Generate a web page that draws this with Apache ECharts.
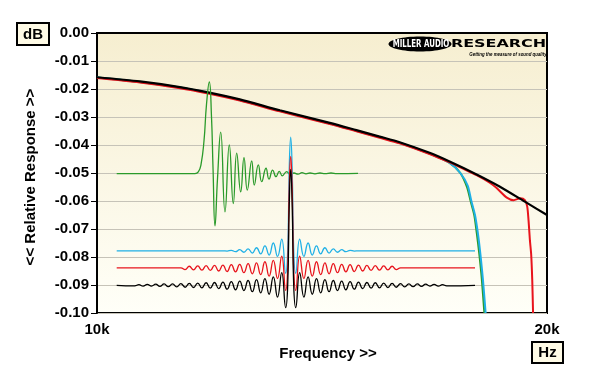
<!DOCTYPE html>
<html><head><meta charset="utf-8">
<script src="https://cdn.jsdelivr.net/npm/echarts@6/dist/echarts.min.js"></script>
<style>html,body{margin:0;padding:0;background:#fff}#c{width:600px;height:383px}</style>
</head><body><div id="c"></div>
<script>
// ---------- tick labels ----------
const xTickFreqs = [10000, 20000];
const xTickLabels = ['10k', '20k'];
const yTickValues = [0, -0.01, -0.02, -0.03, -0.04, -0.05, -0.06, -0.07, -0.08, -0.09, -0.10];
const yTickLabels = ['0.00', '-0.01', '-0.02', '-0.03', '-0.04', '-0.05', '-0.06', '-0.07', '-0.08', '-0.09', '-0.10'];

// ---------- frequency responses (Hz, dB) ----------
const freqBlack = [10000,10684,11362,11844,12460,13252,14312,14911,15455,15939,16691,17214,17945,18590,19378,20000];
const dbBlack   = [-0.0158,-0.0173,-0.0193,-0.0211,-0.0237,-0.0276,-0.0321,-0.0347,-0.0370,-0.0390,-0.0428,-0.0459,-0.0505,-0.0548,-0.0606,-0.0650];

const freqRed = [10000,10684,11362,11844,12460,13252,14312,14911,15455,15939,16691,17214,17600,17945,18300,18500,18800,19000,19200,19330,19400,19440,19480,19518,19550,19575];
const dbRed   = [-0.0161,-0.0177,-0.0197,-0.0215,-0.0241,-0.0280,-0.0325,-0.0351,-0.0374,-0.0394,-0.0432,-0.0462,-0.0486,-0.0508,-0.0534,-0.0553,-0.0588,-0.0597,-0.0590,-0.0597,-0.0620,-0.0670,-0.0740,-0.0790,-0.0880,-0.1000];

const freqCyan = [10000,10684,11362,11844,12460,13252,14312,14911,15455,15939,16691,17214,17500,17700,17800,17900,17980,18050,18120,18196];
const dbCyan   = [-0.0159,-0.0175,-0.0195,-0.0213,-0.0239,-0.0278,-0.0323,-0.0349,-0.0372,-0.0392,-0.0431,-0.0464,-0.0500,-0.0545,-0.0600,-0.0650,-0.0715,-0.0790,-0.0880,-0.1000];

const freqGreen = [10000,10684,11362,11844,12460,13252,14312,14911,15455,15939,16691,17214,17500,17680,17780,17880,17950,18020,18090,18160];
const dbGreen   = [-0.0159,-0.0175,-0.0195,-0.0213,-0.0239,-0.0278,-0.0323,-0.0349,-0.0372,-0.0392,-0.0431,-0.0464,-0.0500,-0.0550,-0.0600,-0.0650,-0.0715,-0.0790,-0.0880,-0.1000];

// ---------- inset impulse responses (time units, dB-scale offset) ----------
const impTime = [19.7,37.7,41.9,46.1,50.3,54.5,58.7,62.9,67.1,71.3,75.5,79.7,83.9,88.1,92.3,96.5,100.7,104.9,109.1,113.3,117.5,121.7,125.9,130.1,134.3,138.5,142.7,146.9,151.1,155.3,159.5,163.7,167.9,172.1,176.3,180.5,184.7,
  188.7,190.7,192.2,193.7,195.2,196.7,198.7,
  202.7,206.9,211.1,215.3,219.5,223.7,227.9,232.1,236.3,240.5,244.7,248.9,253.1,257.3,261.5,265.7,269.9,274.1,278.3,282.5,286.7,290.9,295.1,299.3,303.5,307.7,311.9,316.1,320.3,324.5,328.7,332.9,337.1,341.3,345.5,349.7,378];

const impBlack = [-0.0901,
  -0.0903,-0.0899,-0.0904,-0.0898,-0.0904,-0.0897,-0.0905,-0.0896,-0.0906,-0.0896,-0.0907,-0.0895,-0.0908,-0.0894,-0.0909,-0.0893,-0.0910,-0.0892,-0.0911,-0.0891,-0.0913,-0.0890,-0.0915,-0.0888,-0.0917,-0.0886,-0.0920,-0.0884,-0.0924,-0.0881,-0.0928,-0.0877,-0.0933,-0.0871,-0.0943,-0.0856,
  -0.0981,-0.0901,-0.0620,-0.0487,-0.0620,-0.0901,-0.0981,
  -0.0856,-0.0943,-0.0871,-0.0933,-0.0877,-0.0928,-0.0881,-0.0924,-0.0884,-0.0920,-0.0886,-0.0917,-0.0888,-0.0915,-0.0890,-0.0913,-0.0891,-0.0911,-0.0892,-0.0910,-0.0893,-0.0909,-0.0894,-0.0908,-0.0895,-0.0907,-0.0896,-0.0906,-0.0896,-0.0905,-0.0897,-0.0904,-0.0898,-0.0904,-0.0899,-0.0903,
  -0.0901];

const impRed = [-0.0839,
  -0.0839,-0.0839,-0.0839,-0.0839,-0.0839,-0.0839,-0.0839,-0.0839,-0.0839,-0.0839,-0.0839,-0.0839,-0.0845,-0.0833,-0.0846,-0.0832,-0.0847,-0.0831,-0.0848,-0.0830,-0.0850,-0.0829,-0.0852,-0.0827,-0.0853,-0.0826,-0.0856,-0.0824,-0.0860,-0.0821,-0.0863,-0.0817,-0.0868,-0.0812,-0.0877,-0.0797,
  -0.0919,-0.0839,-0.0560,-0.0441,-0.0560,-0.0839,-0.0919,
  -0.0797,-0.0877,-0.0812,-0.0868,-0.0817,-0.0863,-0.0821,-0.0860,-0.0824,-0.0856,-0.0826,-0.0853,-0.0827,-0.0852,-0.0829,-0.0850,-0.0830,-0.0848,-0.0831,-0.0847,-0.0832,-0.0846,-0.0833,-0.0845,-0.0839,-0.0839,-0.0839,-0.0839,-0.0839,-0.0839,-0.0839,-0.0839,-0.0839,-0.0839,-0.0839,-0.0839,
  -0.0839];

const impCyan = [-0.0778,
  -0.0778,-0.0778,-0.0778,-0.0778,-0.0778,-0.0778,-0.0778,-0.0778,-0.0778,-0.0778,-0.0778,-0.0778,-0.0778,-0.0778,-0.0778,-0.0778,-0.0778,-0.0778,-0.0778,-0.0778,-0.0778,-0.0778,-0.0779,-0.0776,-0.0781,-0.0774,-0.0783,-0.0771,-0.0786,-0.0767,-0.0789,-0.0760,-0.0793,-0.0750,-0.0798,-0.0736,
  -0.0858,-0.0778,-0.0490,-0.0372,-0.0490,-0.0778,-0.0858,
  -0.0736,-0.0798,-0.0750,-0.0793,-0.0760,-0.0789,-0.0767,-0.0786,-0.0771,-0.0783,-0.0774,-0.0781,-0.0776,-0.0779,-0.0778,-0.0778,-0.0778,-0.0778,-0.0778,-0.0778,-0.0778,-0.0778,-0.0778,-0.0778,-0.0778,-0.0778,-0.0778,-0.0778,-0.0778,-0.0778,-0.0778,-0.0778,-0.0778,-0.0778,-0.0778,-0.0778,
  -0.0778];

const greenTime = [19.7,98,101.3,104,107,109.5,112.3,114.5,116,118,120.5,123.7,128,132.3,136.3,139.7,143.7,147,150.3,154.7,157.3,161.3,164.7,169,172,175.7,179,182.3,185.3,189.7,193,197,201,205,209,213,218,223,228,234,240,261];
const greenImp  = [-0.0502,-0.0502,-0.0496,-0.0470,-0.0385,-0.0255,-0.0175,-0.0300,-0.0480,-0.0689,-0.0520,-0.0354,-0.0639,-0.0400,-0.0609,-0.0429,-0.0567,-0.0445,-0.0561,-0.0457,-0.0543,-0.0471,-0.0531,-0.0483,-0.0522,-0.0490,-0.0513,-0.0494,-0.0510,-0.0495,-0.0505,-0.0500,-0.0504,-0.0499,-0.0503,-0.0500,-0.0503,-0.0500,-0.0502,-0.0500,-0.0502,-0.0501];

// ---------- build ----------
const zip = (a, b) => a.map((v, i) => [v, b[i]]);
const C_BLACK = '#000000', C_RED = '#e8141c', C_CYAN = '#1fb0e6', C_GREEN = '#2a9a2a';
const FONT = 'Arial, "Liberation Sans", sans-serif';
const LOGO_FONT = '"DejaVu Sans", Arial, sans-serif';

function resp(name, f, d, color, w) {
  return { name, type: 'line', xAxisIndex: 0, yAxisIndex: 0, data: zip(f, d),
    showSymbol: false, smooth: 0.25, lineStyle: { color, width: w }, itemStyle: { color }, silent: true };
}
function imp(name, t, d, color) {
  return { name, type: 'line', xAxisIndex: 1, yAxisIndex: 0, data: zip(t, d),
    showSymbol: false, smooth: 0.5, lineStyle: { color, width: 1.3 }, itemStyle: { color }, silent: true };
}

const chart = echarts.init(document.getElementById('c'), null, { renderer: 'canvas' });
chart.setOption({
  animation: false,
  backgroundColor: '#ffffff',
  grid: {
    left: 97, right: 53, top: 33, bottom: 70, show: true,
    borderColor: '#000', borderWidth: 2,
    backgroundColor: new echarts.graphic.LinearGradient(0, 0, 0, 1, [
      { offset: 0, color: '#f6eed0' }, { offset: 1, color: '#fffff8' }])
  },
  xAxis: [{
    type: 'log', logBase: 2, min: 10000, max: 20000,
    name: 'Frequency >>', nameLocation: 'middle', nameGap: 33,
    nameTextStyle: { fontFamily: FONT, fontWeight: 'bold', fontSize: 15, color: '#000', padding: [0, 0, 0, 12] },
    axisLine: { show: true, lineStyle: { color: '#000', width: 2 } },
    axisTick: { show: true, customValues: xTickFreqs, length: 5, lineStyle: { color: '#000' } },
    axisLabel: { show: true, customValues: xTickFreqs, margin: 9,
      formatter: v => { const i = xTickFreqs.findIndex(f => Math.abs(f - v) < 1); return i >= 0 ? xTickLabels[i] : ''; },
      fontFamily: FONT, fontWeight: 'bold', fontSize: 15, color: '#000' },
    splitLine: { show: false }, minorTick: { show: false }
  }, {
    type: 'value', min: 0, max: 450, show: false
  }],
  yAxis: [{
    type: 'value', min: -0.1, max: 0, interval: 0.01,
    axisLine: { show: true, lineStyle: { color: '#000', width: 2 } },
    axisTick: { show: true, length: 6, lineStyle: { color: '#000' } },
    axisLabel: { margin: 8, fontFamily: FONT, fontWeight: 'bold', fontSize: 15, color: '#000',
      formatter: v => { const i = yTickValues.findIndex(t => Math.abs(t - v) < 1e-6); return i >= 0 ? yTickLabels[i] : ''; } },
    splitLine: { show: true, lineStyle: { color: '#c6c3b8', width: 1 } }
  }],
  series: [
    resp('green', freqGreen, dbGreen, C_GREEN, 2),
    resp('cyan', freqCyan, dbCyan, C_CYAN, 2),
    resp('red', freqRed, dbRed, C_RED, 2),
    resp('black', freqBlack, dbBlack, C_BLACK, 2.2),
    imp('green impulse', greenTime, greenImp, C_GREEN),
    imp('cyan impulse', impTime, impCyan, C_CYAN),
    imp('red impulse', impTime, impRed, C_RED),
    imp('black impulse', impTime, impBlack, C_BLACK)
  ],
  graphic: [
    { type: 'text', x: 31, y: 177, rotation: Math.PI / 2, style: { text: '<< Relative Response >>', font: 'bold 15px ' + FONT, fill: '#000', align: 'center', verticalAlign: 'middle' } },
    { type: 'rect', shape: { x: 17, y: 23, width: 32, height: 22 }, style: { fill: '#fffbe6', stroke: '#000', lineWidth: 2 } },
    { type: 'text', x: 33, y: 34.5, style: { text: 'dB', font: 'bold 15px ' + FONT, fill: '#000', align: 'center', verticalAlign: 'middle' } },
    { type: 'rect', shape: { x: 532, y: 342, width: 31, height: 21 }, style: { fill: '#fffbe6', stroke: '#000', lineWidth: 2 } },
    { type: 'text', x: 547.5, y: 353, style: { text: 'Hz', font: 'bold 15px ' + FONT, fill: '#000', align: 'center', verticalAlign: 'middle' } },
    { type: 'ellipse', shape: { cx: 420, cy: 44, rx: 31.5, ry: 7.5 }, style: { fill: '#000' } },
    { type: 'text', x: 421, y: 44.5, scaleX: 0.64, style: { text: 'MILLER AUDIO', font: 'bold 11px ' + LOGO_FONT, fill: '#fff', align: 'center', verticalAlign: 'middle' } },
    { type: 'text', x: 498.5, y: 44.5, scaleX: 1.45, style: { text: 'RESEARCH', font: 'bold 11px ' + LOGO_FONT, fill: '#000', align: 'center', verticalAlign: 'middle' } },
    { type: 'text', x: 508, y: 54.5, scaleX: 0.73, style: { text: 'Getting the measure of sound quality', font: 'italic bold 6px ' + FONT, fill: '#000', align: 'center', verticalAlign: 'middle' } }
  ]
});
</script></body></html>
